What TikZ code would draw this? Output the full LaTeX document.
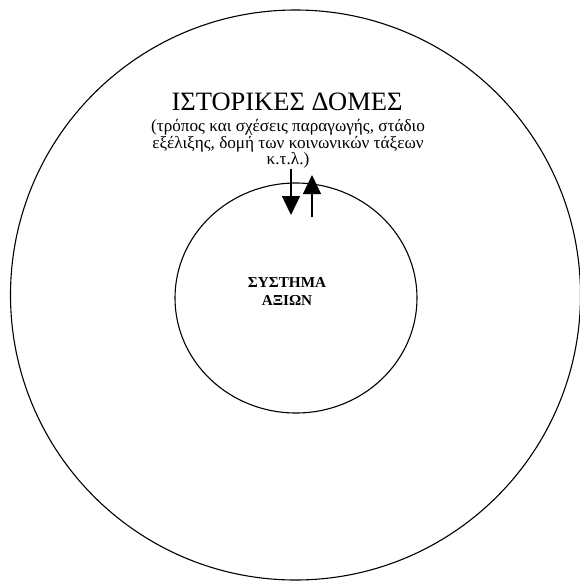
\documentclass[tikz,border=0pt]{standalone}
\usepackage{fontspec}
\setmainfont{Liberation Serif}
\usetikzlibrary{arrows.meta}
\tikzset{
  ring/.style={draw, line width=1.1pt},
  flow/.style={line width=1.4pt, -{Triangle[length=19pt, width=18pt]}}
}
\begin{document}
\begin{tikzpicture}[x=1pt, y=-1pt]
        \useasboundingbox (0,0) rectangle (580,587);
        \draw[ring] (295.5,295) circle[radius=285];
        \draw[ring] (296,298) ellipse[x radius=121, y radius=115];
        \node[font=\fontsize{26.5}{28}\selectfont, inner sep=0pt, anchor=base] (title) at (287,110) {ΙΣΤΟΡΙΚΕΣ ΔΟΜΕΣ};
        \node[font=\fontsize{17.2}{15}\selectfont, align=center, inner sep=0pt, anchor=north] (desc) at (288,119)
            {(τρόπος και σχέσεις παραγωγής, στάδιο\\εξέλιξης, δομή των κοινωνικών τάξεων\\κ.τ.λ.)};
        \node[font=\fontsize{15.2}{18}\selectfont\bfseries, align=center, inner sep=0pt] (core) at (287,291)
            {ΣΥΣΤΗΜΑ\\ΑΞΙΩΝ};
        \coordinate (downtop) at (291,169);
        \coordinate (downend) at (291,215);
        \coordinate (upbot) at (312,217);
        \coordinate (uptip) at (312,175);
        \draw[flow] (downtop) -- (downend);
        \draw[flow] (upbot) -- (uptip);
    \end{tikzpicture}
\end{document}
